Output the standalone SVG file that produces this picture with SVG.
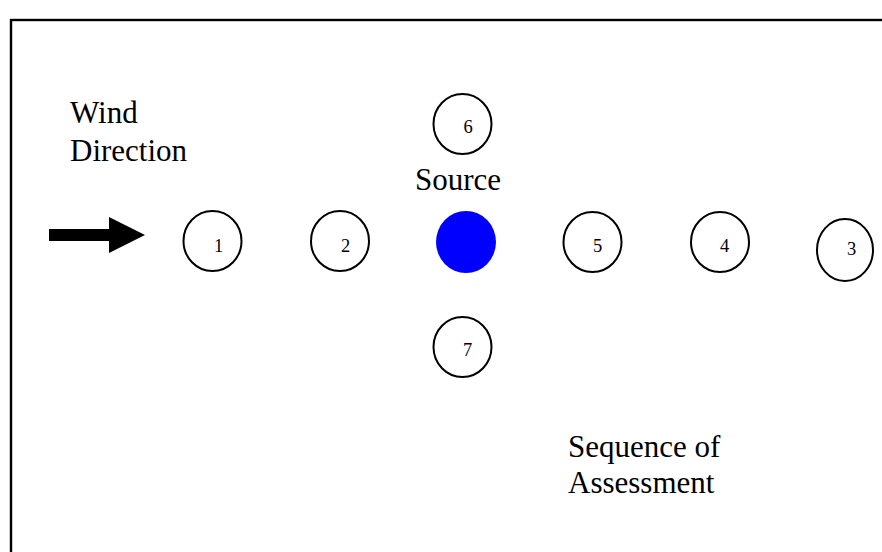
<svg xmlns="http://www.w3.org/2000/svg" width="882" height="552" viewBox="0 0 882 552">
<style>
.ring{fill:#fff;stroke:#000;stroke-width:2}
.num{font-family:"Liberation Serif",serif;font-size:18.5px;fill:#000;text-anchor:middle}
.lbl{font-family:"Liberation Serif",serif;font-size:31px;fill:#000}
</style>
<rect x="11" y="20" width="880" height="545" fill="#fff" stroke="#000" stroke-width="2.4"/>
<g id="wind-label"><text class="lbl" x="70" y="123">Wind</text><text class="lbl" x="70" y="161">Direction</text></g>
<g id="connectors"><polygon points="49,229 109,229 109,217 145,235 109,253 109,241 49,241" fill="#000"/></g>
<g id="n1"><ellipse class="ring" cx="212.5" cy="241" rx="29" ry="30"/><text class="num" x="218.5" y="252">1</text></g>
<g id="n2"><ellipse class="ring" cx="340" cy="241" rx="29" ry="30"/><text class="num" x="345.5" y="252">2</text></g>
<g id="n6"><ellipse class="ring" cx="462.5" cy="124" rx="29" ry="30"/><text class="num" x="468" y="133">6</text></g>
<g id="source"><text class="lbl" x="415" y="190">Source</text><ellipse cx="466" cy="242" rx="30" ry="31" fill="#0000ff"/></g>
<g id="n5"><ellipse class="ring" cx="592.5" cy="242" rx="29" ry="30"/><text class="num" x="597.5" y="252">5</text></g>
<g id="n4"><ellipse class="ring" cx="720" cy="242" rx="29" ry="30"/><text class="num" x="724.5" y="252">4</text></g>
<g id="n3"><ellipse class="ring" cx="845" cy="250" rx="28" ry="31"/><text class="num" x="851.5" y="255">3</text></g>
<g id="n7"><ellipse class="ring" cx="462.5" cy="347" rx="29" ry="30"/><text class="num" x="467.5" y="356">7</text></g>
<g id="seq-label"><text class="lbl" x="568" y="457">Sequence of</text><text class="lbl" x="568" y="493">Assessment</text></g>
</svg>
